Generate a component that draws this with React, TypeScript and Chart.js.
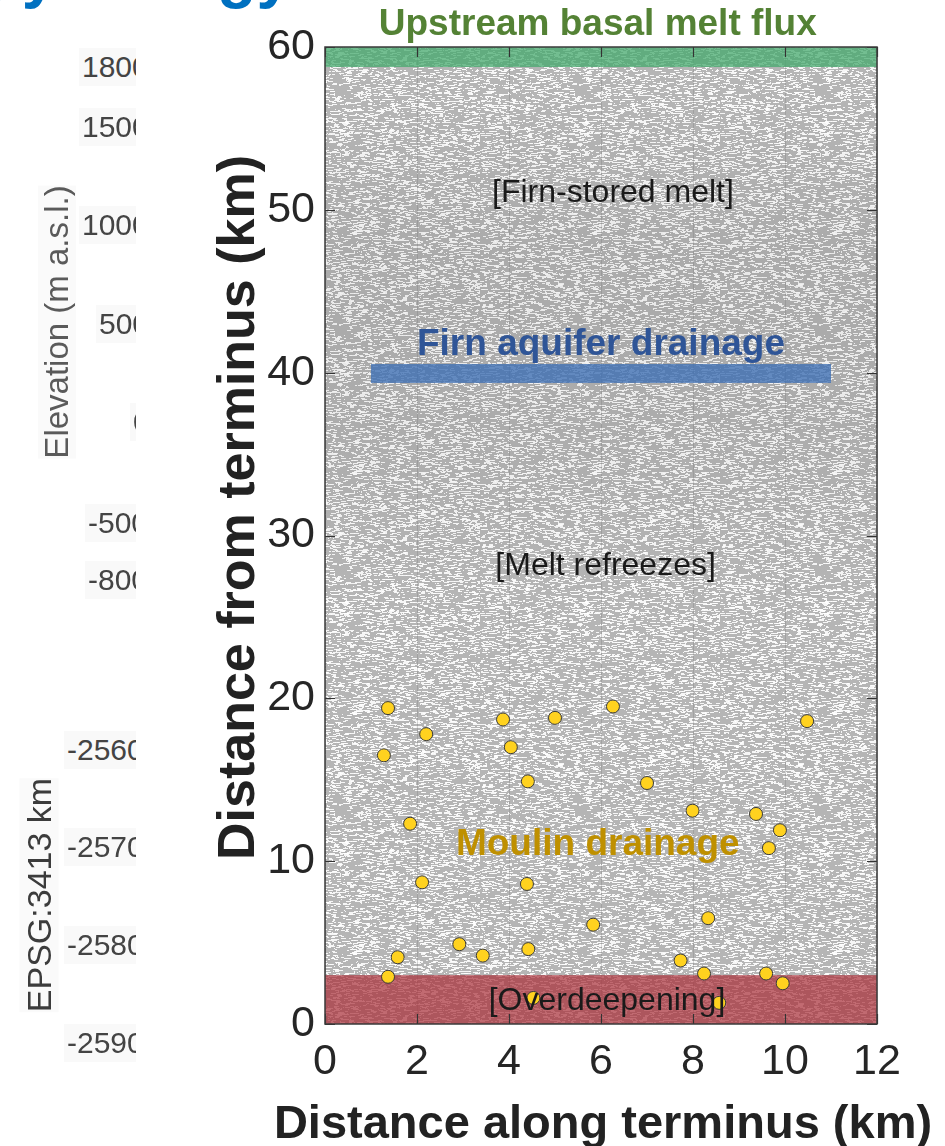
import React, { useEffect, useRef } from "react";
import { Chart, registerables } from "chart.js";

Chart.register(...registerables);

// ---------------- data ----------------
const moulinX = [1.37, 1.28, 2.2, 1.85, 2.11, 3.87, 4.04, 4.41, 5.0, 6.26, 7.0, 10.48, 7.99, 9.37, 9.89, 9.65, 4.39, 5.83, 8.33, 2.92, 3.43, 4.42, 1.58, 1.37, 7.73, 8.24, 9.59, 9.95, 4.53, 8.57];
const moulinY = [19.4, 16.5, 17.8, 12.3, 8.7, 18.7, 17.0, 14.9, 18.8, 19.5, 14.8, 18.6, 13.1, 12.9, 11.9, 10.8, 8.6, 6.1, 6.5, 4.9, 4.2, 4.6, 4.1, 2.9, 3.9, 3.1, 3.1, 2.5, 1.6, 1.3];

const xTickValues = [0, 2, 4, 6, 8, 10, 12];
const yTickValues = [0, 10, 20, 30, 40, 50, 60];

const zoneNames = ["Upstream basal melt flux", "Firn aquifer drainage", "Overdeepening"];
const zoneX0 = [0, 1, 0];
const zoneX1 = [12, 11, 12];
const zoneY0 = [58.77, 39.37, 0];
const zoneY1 = [60, 40.53, 3.0];

const noteText = ["Upstream basal melt flux", "[Firn-stored melt]", "Firn aquifer drainage", "[Melt refreezes]", "Moulin drainage", "[Overdeepening]"];
const noteX = [5.93, 6.26, 6.0, 6.1, 5.93, 6.13];
const noteY = [60.74, 50.5, 41.1, 27.6, 10.4, 0.86];

// side panel fragments (tick labels of a neighbouring panel)
const sideTicks = ["1800", "1500", "1000", "500", "0", "-500", "-800", "-2560", "-2570", "-2580", "-2590"];

// ---------------- styles ----------------
const FONT = "'Liberation Sans', Arial, Helvetica, sans-serif";
const zoneColors = ["rgba(70,170,110,0.75)", "rgba(60,110,180,0.78)", "rgba(170,50,60,0.72)"];
const noteColor = ["#548235", "#1a1a1a", "#2F5597", "#1a1a1a", "#BF9000", "#1a1a1a"];
const noteBold = [true, false, true, false, true, false];
const noteSize = [37, 32, 37, 32, 37, 32];
const sideTickLeft = [82, 82, 82, 99, 133, 88, 88, 67, 67, 67, 67];
const sideTickTop = [67, 127, 225, 324, 422, 523, 580, 750, 847, 945, 1043];

let patternCanvas: HTMLCanvasElement | null = null;
function getTexture(): HTMLCanvasElement {
  if (patternCanvas) return patternCanvas;
  const c = document.createElement("canvas");
  c.width = 240;
  c.height = 240;
  const g = c.getContext("2d")!;
  g.fillStyle = "#b5b5b5";
  g.fillRect(0, 0, 240, 240);
  let s = 987654321;
  const next = () => {
    s = (Math.imul(s, 1103515245) + 12345) >>> 0;
    return s / 4294967296;
  };
  g.fillStyle = "rgba(255,255,255,0.88)";
  for (let i = 0; i < 7500; i++) {
    const x = Math.floor(next() * 240);
    const y = Math.floor(next() * 240);
    const w = 1 + Math.floor(next() * 5);
    g.fillRect(x, y, w, 1);
  }
  patternCanvas = c;
  return c;
}

const backgroundPlugin = {
  id: "iceBackground",
  beforeDraw(chart: any) {
    const { ctx, chartArea: a } = chart;
    const ys = chart.scales.y;
    ctx.save();
    const pat = ctx.createPattern(getTexture(), "repeat");
    ctx.fillStyle = pat || "#c0c0c0";
    ctx.fillRect(a.left, a.top, a.right - a.left, a.bottom - a.top);
    const g = ctx.createLinearGradient(0, ys.getPixelForValue(57), 0, ys.getPixelForValue(26));
    g.addColorStop(0, "rgba(0,0,0,0)");
    g.addColorStop(0.3, "rgba(0,0,0,0.06)");
    g.addColorStop(0.65, "rgba(0,0,0,0.05)");
    g.addColorStop(1, "rgba(0,0,0,0)");
    ctx.fillStyle = g;
    ctx.fillRect(a.left, a.top, a.right - a.left, a.bottom - a.top);
    ctx.restore();
  },
  beforeDatasetsDraw(chart: any) {
    const { ctx } = chart;
    const xs = chart.scales.x;
    const ys = chart.scales.y;
    ctx.save();
    for (let i = 0; i < zoneNames.length; i++) {
      const x0 = xs.getPixelForValue(zoneX0[i]);
      const x1 = xs.getPixelForValue(zoneX1[i]);
      const y0 = ys.getPixelForValue(zoneY0[i]);
      const y1 = ys.getPixelForValue(zoneY1[i]);
      ctx.fillStyle = zoneColors[i];
      ctx.fillRect(x0, y1, x1 - x0, y0 - y1);
    }
    ctx.restore();
  },
  afterDatasetsDraw(chart: any) {
    const { ctx, chartArea: a } = chart;
    const xs = chart.scales.x;
    const ys = chart.scales.y;
    ctx.save();
    ctx.strokeStyle = "#333333";
    ctx.lineWidth = 1.2;
    const tl = 10;
    ctx.beginPath();
    for (const v of xTickValues) {
      const px = Math.round(xs.getPixelForValue(v)) + 0.5;
      ctx.moveTo(px, a.bottom);
      ctx.lineTo(px, a.bottom - tl);
      ctx.moveTo(px, a.top);
      ctx.lineTo(px, a.top + tl);
    }
    for (const v of yTickValues) {
      const py = Math.round(ys.getPixelForValue(v)) + 0.5;
      ctx.moveTo(a.left, py);
      ctx.lineTo(a.left + tl, py);
      ctx.moveTo(a.right, py);
      ctx.lineTo(a.right - tl, py);
    }
    ctx.stroke();
    ctx.lineWidth = 1.5;
    ctx.strokeStyle = "#3a3a3a";
    ctx.strokeRect(a.left, a.top, a.right - a.left, a.bottom - a.top);
    ctx.textAlign = "center";
    ctx.textBaseline = "alphabetic";
    for (let i = 0; i < noteText.length; i++) {
      ctx.font = `${noteBold[i] ? "bold " : ""}${noteSize[i]}px ${FONT}`;
      ctx.fillStyle = noteColor[i];
      ctx.fillText(noteText[i], xs.getPixelForValue(noteX[i]), ys.getPixelForValue(noteY[i]));
    }
    ctx.restore();
  },
  afterDraw(chart: any) {
    const { ctx, chartArea: a } = chart;
    ctx.save();
    ctx.fillStyle = "#222222";
    ctx.textAlign = "center";
    ctx.textBaseline = "alphabetic";
    ctx.font = `bold 47px ${FONT}`;
    ctx.fillText("Distance along terminus (km)", (a.left + a.right) / 2 + 2, 1138);
    ctx.translate(254, (a.top + a.bottom) / 2 - 28);
    ctx.rotate(-Math.PI / 2);
    ctx.font = `bold 52px ${FONT}`;
    ctx.fillText("Distance from terminus (km)", 0, 0);
    ctx.restore();
  },
};

function SidePanel() {
  return (
    <div style={{ position: "absolute", left: 0, top: 0, width: 136, height: 1146, overflow: "hidden", fontFamily: FONT }}>
      {sideTicks.map((t, i) => (
        <div
          key={t}
          style={{
            position: "absolute",
            left: sideTickLeft[i] - 3,
            top: sideTickTop[i] - 19,
            height: 38,
            lineHeight: "38px",
            padding: "0 3px",
            fontSize: 30,
            color: "#444444",
            background: "#f9f9f9",
            whiteSpace: "nowrap",
          }}
        >
          {t}
        </div>
      ))}
      <div
        style={{
          position: "absolute",
          left: 57,
          top: 322,
          transform: "translate(-50%, -50%) rotate(-90deg)",
          fontSize: 33,
          color: "#5a5a5a",
          whiteSpace: "nowrap",
          background: "#fafafa",
        }}
      >
        Elevation (m a.s.l.)
      </div>
      <div
        style={{
          position: "absolute",
          left: 39,
          top: 895,
          transform: "translate(-50%, -50%) rotate(-90deg)",
          fontSize: 34,
          color: "#3c3c3c",
          whiteSpace: "nowrap",
          background: "#fafafa",
        }}
      >
        EPSG:3413 km
      </div>
    </div>
  );
}

function TopFragments() {
  const base: React.CSSProperties = {
    position: "absolute",
    top: -58,
    fontSize: 64,
    lineHeight: "64px",
    fontWeight: "bold",
    color: "#0070C0",
    whiteSpace: "nowrap",
    fontFamily: FONT,
  };
  return (
    <div style={{ position: "absolute", left: 0, top: 0, width: 945, height: 16, overflow: "hidden" }}>
      <div style={{ ...base, right: 945 - 15 }}>Geometry</div>
      <div style={{ ...base, right: 945 - 292 }}>Hydrology</div>
    </div>
  );
}

export default function App() {
  const ref = useRef<HTMLCanvasElement | null>(null);
  useEffect(() => {
    if (!ref.current) return;
    const points = moulinX.map((x, i) => ({ x, y: moulinY[i] }));
    const chart = new Chart(ref.current, {
      type: "scatter",
      data: {
        datasets: [
          {
            label: "Moulins",
            data: points,
            pointRadius: 6.5,
            pointHoverRadius: 6.5,
            backgroundColor: "#FFD21F",
            borderColor: "#3a3a3a",
            borderWidth: 1,
          },
        ],
      },
      options: {
        responsive: false,
        animation: false,
        events: [],
        layout: { padding: { left: 0, right: 68, top: 47, bottom: 0 } },
        plugins: { legend: { display: false }, tooltip: { enabled: false }, title: { display: false } },
        scales: {
          x: {
            type: "linear",
            min: 0,
            max: 12,
            afterFit: (s: any) => {
              s.height = 122;
            },
            afterBuildTicks: (s: any) => {
              s.ticks = xTickValues.map((v) => ({ value: v }));
            },
            ticks: {
              font: { family: FONT, size: 43 },
              color: "#262626",
              padding: 12,
              maxRotation: 0,
              autoSkip: false,
            },
            grid: { display: true, drawOnChartArea: true, drawTicks: false, color: "rgba(105,105,105,0.25)", lineWidth: 1 },
            border: { display: false },
          },
          y: {
            type: "linear",
            min: 0,
            max: 60,
            afterFit: (s: any) => {
              s.width = 325;
            },
            afterBuildTicks: (s: any) => {
              s.ticks = yTickValues.map((v) => ({ value: v }));
            },
            ticks: {
              font: { family: FONT, size: 43 },
              color: "#262626",
              padding: 10,
              autoSkip: false,
            },
            grid: { display: false, drawTicks: false },
            border: { display: false },
          },
        },
      },
      plugins: [backgroundPlugin],
    } as any);
    return () => chart.destroy();
  }, []);
  return (
    <div style={{ position: "absolute", left: 0, top: 0, width: 945, height: 1146, background: "#ffffff", overflow: "hidden" }}>
      <canvas ref={ref} width={945} height={1146} style={{ position: "absolute", left: 0, top: 0, width: 945, height: 1146 }} />
      <SidePanel />
      <TopFragments />
    </div>
  );
}
